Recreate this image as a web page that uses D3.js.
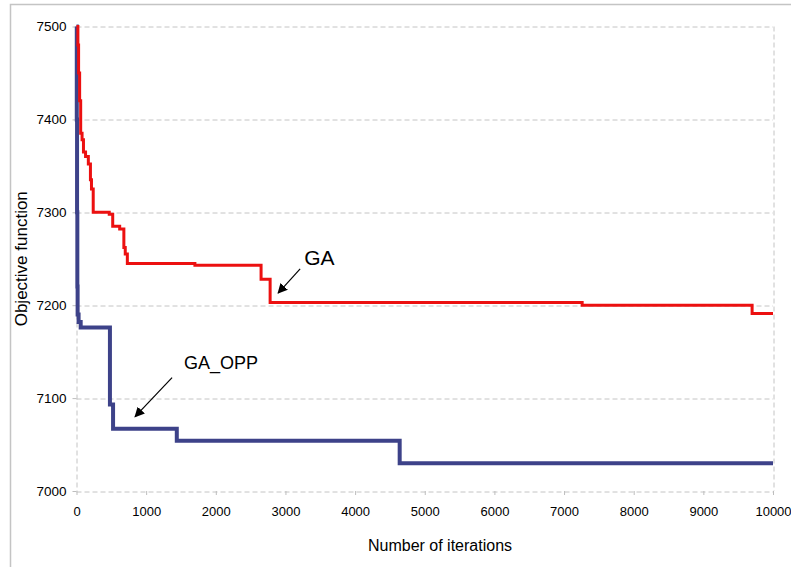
<!DOCTYPE html>
<html>
<head>
<meta charset="utf-8">
<script src="https://cdn.jsdelivr.net/npm/d3@7"></script>
<style>
  body { margin: 0; background: #fff; }
  text { font-family: "Liberation Sans", Arial, sans-serif; }
</style>
</head>
<body>
<div id="chart"></div>
<script>
(function () {
  // data (step lines)
  const gaIter = [0, 20, 30, 45, 60, 80, 100, 130, 170, 200, 215, 240, 470, 520, 620, 680, 700, 730, 1700, 2650, 2780, 7260, 9700, 10000];
  const gaValue = [7500, 7480, 7450, 7420, 7385, 7378, 7365, 7360, 7352, 7335, 7325, 7300, 7298, 7285, 7282, 7262, 7255, 7245, 7243, 7228, 7203, 7200, 7191, 7191];

  const oppIter = [0, 4, 8, 12, 16, 30, 60, 480, 525, 1440, 4640, 10000];
  const oppValue = [7500, 7400, 7300, 7220, 7190, 7182, 7176, 7093, 7067, 7054, 7030, 7030];

  const xTicks = [0, 1000, 2000, 3000, 4000, 5000, 6000, 7000, 8000, 9000, 10000];
  const yTicks = [7000, 7100, 7200, 7300, 7400, 7500];

  // annotations: label position and arrow (from -> to), in data units
  const notes = [
    { text: "GA", x: 3270, y: 7243, size: 21, from: [3211, 7239], to: [2895, 7213] },
    { text: "GA_OPP", x: 1545, y: 7131, size: 18, from: [1372, 7122], to: [841, 7080] }
  ];

  const W = 791, H = 567;
  const margin = { top: 26.5, right: 18, bottom: 76, left: 76.5 };
  const innerWidth = W - margin.left - margin.right;
  const innerHeight = H - margin.top - margin.bottom;

  const svg = d3.select("#chart").append("svg")
    .attr("width", W)
    .attr("height", H);

  const defs = svg.append("defs");
  // checkered texture for GA_OPP line
  const pat = defs.append("pattern")
    .attr("id", "checker")
    .attr("patternUnits", "userSpaceOnUse")
    .attr("width", 2).attr("height", 2);
  pat.append("rect").attr("width", 2).attr("height", 2).attr("fill", "#1e2372");
  pat.append("rect").attr("x", 1).attr("y", 1).attr("width", 1).attr("height", 1).attr("fill", "#9a9dcc");

  defs.append("marker")
    .attr("id", "arrow")
    .attr("viewBox", "0 0 10 10")
    .attr("refX", 9).attr("refY", 5)
    .attr("markerWidth", 10).attr("markerHeight", 10)
    .attr("markerUnits", "userSpaceOnUse")
    .attr("orient", "auto")
    .append("path")
    .attr("d", "M0,0 L10,5 L0,10 z")
    .attr("fill", "#000");

  // outer frame (only left/top visible)
  svg.append("path")
    .attr("d", `M10.5,${H} V4.5 H${W}`)
    .attr("fill", "none")
    .attr("stroke", "#c4c4c4")
    .attr("stroke-width", 1.5);

  const plot = svg.append("g")
    .attr("transform", `translate(${margin.left},${margin.top})`);

  const x = d3.scaleLinear().domain([0, 10000]).range([0, innerWidth]);
  const y = d3.scaleLinear().domain([7000, 7500]).range([innerHeight, 0]);

  // grid
  plot.append("g")
    .selectAll("line")
    .data(yTicks)
    .join("line")
    .attr("x1", 0).attr("x2", innerWidth)
    .attr("y1", d => Math.round(y(d)) + 0.5).attr("y2", d => Math.round(y(d)) + 0.5)
    .attr("stroke", "#c4c4c4")
    .attr("stroke-dasharray", "5,3");

  plot.append("g")
    .selectAll("line")
    .data([0, 10000])
    .join("line")
    .attr("x1", d => Math.round(x(d)) + 0.5).attr("x2", d => Math.round(x(d)) + 0.5)
    .attr("y1", 0).attr("y2", innerHeight)
    .attr("stroke", "#c4c4c4")
    .attr("stroke-dasharray", "5,3");

  // axes
  const xAxis = plot.append("g")
    .attr("transform", `translate(0,${innerHeight})`)
    .call(d3.axisBottom(x).tickValues(xTicks).tickSize(4).tickPadding(12).tickFormat(d3.format("d")));
  xAxis.select(".domain").remove();
  xAxis.selectAll(".tick line").attr("stroke", "#bdbdbd");
  xAxis.selectAll("text").style("font-size", "13px").attr("fill", "#000");

  const yAxis = plot.append("g")
    .call(d3.axisLeft(y).tickValues(yTicks).tickSize(4).tickPadding(6).tickFormat(d3.format("d")));
  yAxis.select(".domain").remove();
  yAxis.selectAll(".tick line").attr("stroke", "#bdbdbd");
  yAxis.selectAll("text").style("font-size", "13.5px").attr("fill", "#000");

  // series
  const line = d3.line()
    .x(d => x(d[0]))
    .y(d => y(d[1]))
    .curve(d3.curveStepAfter);

  plot.append("path")
    .datum(oppIter.map((v, i) => [v, oppValue[i]]))
    .attr("fill", "none")
    .attr("stroke", "url(#checker)")
    .attr("stroke-width", 4)
    .attr("d", line);

  plot.append("path")
    .datum(gaIter.map((v, i) => [v, gaValue[i]]))
    .attr("fill", "none")
    .attr("stroke", "#ec1010")
    .attr("stroke-width", 3)
    .attr("d", line);

  // annotations
  notes.forEach(n => {
    plot.append("text")
      .attr("x", x(n.x))
      .attr("y", y(n.y))
      .style("font-size", n.size + "px")
      .text(n.text);
    plot.append("line")
      .attr("x1", x(n.from[0])).attr("y1", y(n.from[1]))
      .attr("x2", x(n.to[0])).attr("y2", y(n.to[1]))
      .attr("stroke", "#000")
      .attr("stroke-width", 1.2)
      .attr("marker-end", "url(#arrow)");
  });

  // axis titles
  svg.append("text")
    .attr("x", 440)
    .attr("y", 551)
    .attr("text-anchor", "middle")
    .style("font-size", "16px")
    .text("Number of iterations");

  svg.append("text")
    .attr("transform", `translate(27,${margin.top + innerHeight / 2}) rotate(-90)`)
    .attr("text-anchor", "middle")
    .style("font-size", "17px")
    .text("Objective function");
})();
</script>
</body>
</html>
